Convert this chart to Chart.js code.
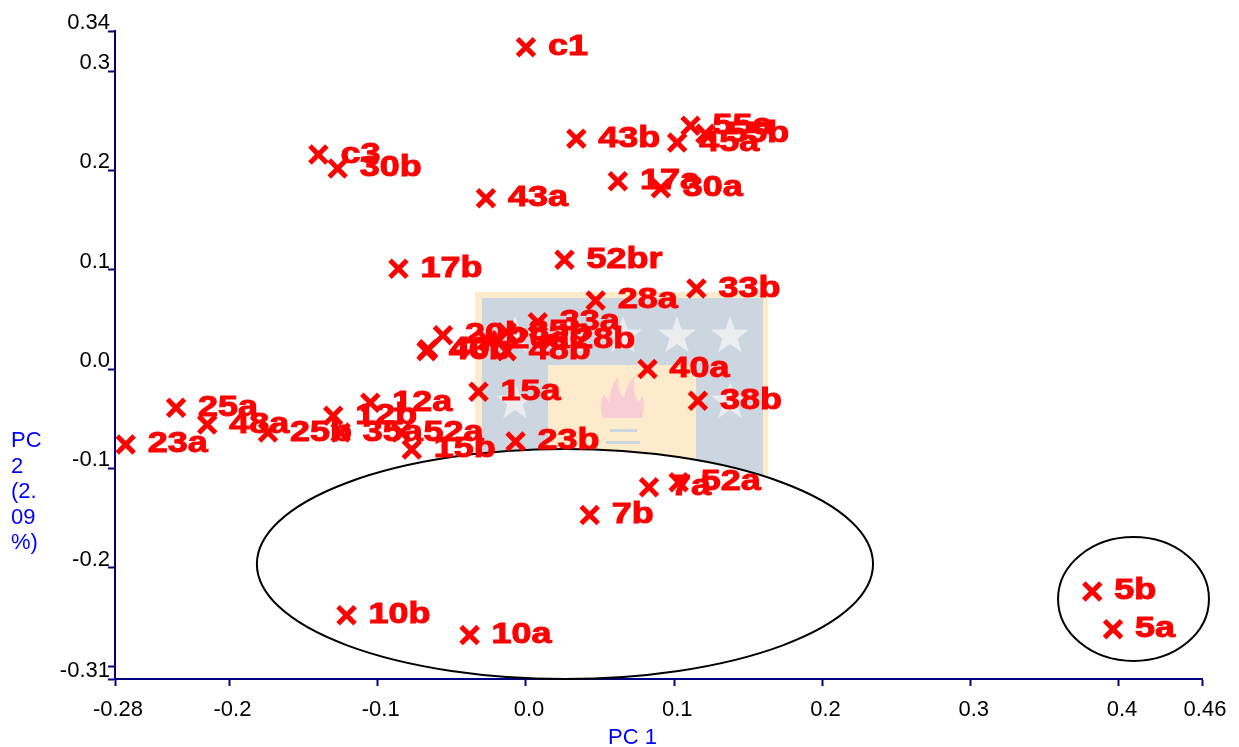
<!DOCTYPE html>
<html>
<head>
<meta charset="utf-8">
<title>PCA scores</title>
<script src="https://cdn.jsdelivr.net/npm/chart.js@4"></script>
<style>
  body { margin: 0; background: #fff; }
  #wrap { position: relative; width: 1239px; height: 747px; }
  #crest, #chart { position: absolute; left: 0; top: 0; }
</style>
</head>
<body>
<div id="wrap">
  <!-- faded crest behind the plot -->
  <svg id="crest" width="1239" height="747">
    <defs>
      <polygon id="star" fill="#ecedef" points="0,-20 4.7,-6.5 19,-6.2 7.6,2.5 11.8,16.2 0,8 -11.8,16.2 -7.6,2.5 -19,-6.2 -4.7,-6.5"/>
    </defs>
    <rect x="475" y="292" width="293" height="230" fill="#feebcb"/>
    <rect x="482" y="298" width="281" height="224" fill="#ccd6e1"/>
    <rect x="548" y="365" width="148" height="157" fill="#feebcb"/>
    <use href="#star" x="515" y="336"/>
    <use href="#star" x="570" y="336"/>
    <use href="#star" x="623" y="336"/>
    <use href="#star" x="677" y="336"/>
    <use href="#star" x="730" y="336"/>
    <use href="#star" x="515" y="402"/>
    <use href="#star" x="730" y="402"/>
    <path d="M603 418 Q598 405 604 394 L609 402 Q610 388 618 376 Q617 392 624 398 Q626 384 635 376 Q632 392 638 402 L643 396 Q645 408 642 418 Z" fill="#f8cdd3"/>
    <rect x="610" y="429" width="27" height="3" fill="#ccd6e1"/>
    <rect x="606" y="441" width="34" height="3" fill="#ccd6e1"/>
  </svg>
  <canvas id="chart" width="1239" height="747"></canvas>
</div>
<script>
const labels = ['c1', 'c3', '30b', '43b', '55a', '55b', '45a', '17a', '30a', '43a', '17b', '52br', '28a', '33b',
  '33a', '20b', '46b', '40b', '48b', '20a', '35b', '28b', '40a', '38b', '15a', '12a', '12b', '25a', '48a', '25b',
  '35a', '52a', '15b', '23a', '23b', '52a', '7a', '7b', '10b', '10a', '5b', '5a'];
const pc1 = [0.000, -0.140, -0.127, 0.034, 0.111, 0.121, 0.102, 0.062, 0.091, -0.027, -0.086, 0.026, 0.047, 0.115,
  0.008, -0.056, -0.067, -0.066, -0.013, -0.026, -0.013, 0.017, 0.082, 0.116, -0.032, -0.105, -0.130, -0.236, -0.215, -0.174,
  -0.125, -0.084, -0.077, -0.270, -0.007, 0.103, 0.083, 0.043, -0.121, -0.038, 0.382, 0.396];
const pc2 = [0.324, 0.216, 0.202, 0.232, 0.245, 0.237, 0.228, 0.189, 0.182, 0.172, 0.101, 0.110, 0.069, 0.081,
  0.047, 0.034, 0.018, 0.020, 0.018, 0.029, 0.037, 0.029, 0.000, -0.032, -0.023, -0.034, -0.047, -0.039, -0.056, -0.064,
  -0.064, -0.064, -0.081, -0.076, -0.073, -0.114, -0.119, -0.147, -0.248, -0.268, -0.224, -0.262];

const xTicks = [-0.2772, -0.2, -0.1, 0, 0.1, 0.2, 0.3, 0.4, 0.456];
const xTickLabels = ['-0.28', '-0.2', '-0.1', '0.0', '0.1', '0.2', '0.3', '0.4', '0.46'];
const yTicks = [0.3404, 0.3, 0.2, 0.1, 0, -0.1, -0.2, -0.3, -0.3122];
const yTickLabels = ['0.34', '0.3', '0.2', '0.1', '0.0', '-0.1', '-0.2', '', '-0.31'];

// circled groups, centre and radii in data units
const ellipseCx = [0.0263, 0.4098];
const ellipseCy = [-0.1964, -0.2316];
const ellipseRx = [0.2078, 0.0509];
const ellipseRy = [0.1158, 0.0624];

const yTitleLines = ['PC', '2', '(2.', '09', '%)'];

const ellipses = {
  id: 'ellipses',
  beforeDatasetsDraw(chart) {
    const { ctx, scales: { x, y } } = chart;
    ctx.save();
    ctx.fillStyle = '#fff';
    ctx.strokeStyle = '#000';
    ctx.lineWidth = 2;
    ellipseCx.forEach((cx, i) => {
      const px = x.getPixelForValue(cx);
      const py = y.getPixelForValue(ellipseCy[i]);
      const rx = x.getPixelForValue(cx + ellipseRx[i]) - px;
      const ry = py - y.getPixelForValue(ellipseCy[i] + ellipseRy[i]);
      ctx.beginPath();
      ctx.ellipse(px, py, rx, ry, 0, 0, Math.PI * 2);
      ctx.fill();
      ctx.stroke();
    });
    ctx.restore();
  }
};

// sample names next to each x, the original type is stretched sideways
const pointLabels = {
  id: 'pointLabels',
  afterDatasetsDraw(chart) {
    const { ctx, scales: { x, y } } = chart;
    ctx.save();
    ctx.fillStyle = '#f00';
    ctx.strokeStyle = '#f00';
    ctx.lineWidth = 1;
    ctx.font = 'bold 29px "Liberation Sans"';
    labels.forEach((name, i) => {
      ctx.save();
      ctx.translate(x.getPixelForValue(pc1[i]) + 22, y.getPixelForValue(pc2[i]) + 8);
      ctx.scale(1.24, 1);
      ctx.fillText(name, 0, 0);
      ctx.strokeText(name, 0, 0);
      ctx.restore();
    });
    ctx.restore();
  }
};

const axisTitles = {
  id: 'axisTitles',
  afterDraw(chart) {
    const { ctx } = chart;
    ctx.save();
    ctx.fillStyle = '#00f';
    ctx.font = '22px "Liberation Sans"';
    ctx.textBaseline = 'alphabetic';
    ctx.fillText('PC 1', 608, 744);
    yTitleLines.forEach((line, i) => ctx.fillText(line, 11, 447 + i * 25.5));
    ctx.restore();
  }
};

new Chart(document.getElementById('chart').getContext('2d'), {
  type: 'scatter',
  data: {
    datasets: [{
      data: pc1.map((v, i) => ({ x: v, y: pc2[i] })),
      pointStyle: 'crossRot',
      pointRadius: 12,
      pointBorderWidth: 5,
      pointBorderColor: '#f00',
      clip: false
    }]
  },
  options: {
    responsive: false,
    animation: false,
    events: [],
    layout: { padding: { top: 31, right: 37 } },
    plugins: {
      legend: { display: false },
      tooltip: { enabled: false }
    },
    scales: {
      x: {
        type: 'linear',
        min: xTicks[0],
        max: xTicks[xTicks.length - 1],
        afterBuildTicks: (axis) => { axis.ticks = xTicks.map(v => ({ value: v })); },
        afterFit: (axis) => { axis.height = 68; },
        grid: { drawOnChartArea: false, tickColor: '#000080', tickLength: 7, tickWidth: 2 },
        border: { color: '#000080', width: 2 },
        ticks: {
          autoSkip: false,
          maxRotation: 0,
          color: '#000',
          padding: 11,
          labelOffset: 3,
          font: { family: '"Liberation Sans"', size: 22 },
          callback: (v, i) => xTickLabels[i]
        }
      },
      y: {
        type: 'linear',
        min: yTicks[yTicks.length - 1],
        max: yTicks[0],
        afterBuildTicks: (axis) => { axis.ticks = yTicks.map(v => ({ value: v })).reverse(); },
        afterFit: (axis) => { axis.width = 115; },
        grid: { drawOnChartArea: false, tickColor: '#000080', tickLength: 7, tickWidth: 2 },
        border: { color: '#000080', width: 2 },
        ticks: {
          autoSkip: false,
          color: '#000',
          padding: -2,
          labelOffset: -8,
          font: { family: '"Liberation Sans"', size: 22 },
          callback: (v, i) => yTickLabels[yTicks.length - 1 - i]
        }
      }
    }
  },
  plugins: [ellipses, pointLabels, axisTitles]
});
</script>
</body>
</html>
